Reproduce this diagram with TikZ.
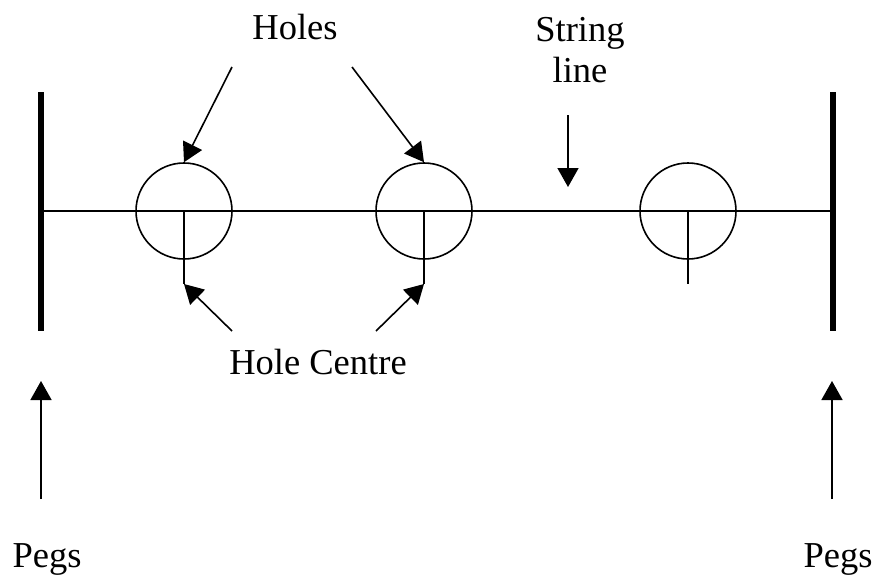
\documentclass[tikz,border=0pt]{standalone}
\usepackage{fontspec}
\setmainfont{Liberation Serif}
\usetikzlibrary{arrows.meta,positioning}

\begin{document}
\begin{tikzpicture}[x=1pt,y=-1pt,
    thinline/.style={line width=1.6pt},
    peg/.style={line width=5.5pt},
    pointer/.style={line width=1.6pt,-{Triangle[length=19pt,width=21pt]}},
    hole/.style={circle,draw,line width=1.6pt,minimum size=96pt,inner sep=0pt},
    lbl/.style={font=\fontsize{36.5}{41}\selectfont,inner sep=0pt,anchor=base}]
    \useasboundingbox (0,0) rectangle (878,576);
    % pegs and string
    \coordinate (pegLtop) at (41,92);
    \coordinate (pegLbot) at (41,331);
    \coordinate (pegRtop) at (833,92);
    \coordinate (pegRbot) at (833,331);
    \coordinate (strL) at (41,211);
    \coordinate (strR) at (833,211);
    \draw[thinline] (strL) -- (strR);
    \draw[peg] (pegLtop) -- (pegLbot);
    \draw[peg] (pegRtop) -- (pegRbot);
    % holes with their centre ticks
    \foreach \n/\x in {1/184,2/424,3/688} {
      \node[hole] (hole\n) at (\x,211) {};
      \coordinate (tick\n) at (\x,284);
      \draw[thinline] (hole\n.center) -- (tick\n);
    }
    % labels
    \node[lbl] (holesLbl) at (295,39) {Holes};
    \node[lbl,align=center] (stringLbl) at (580,82) {String\\line};
    \node[lbl] (centreLbl) at (318,374) {Hole Centre};
    \node[lbl] (pegsL) at (47,567) {Pegs};
    \node[lbl] (pegsR) at (838,567) {Pegs};
    % pointers
    \coordinate (holesA) at (232,67);
    \coordinate (holesB) at (352,67);
    \coordinate (stringA) at (568,115);
    \coordinate (stringB) at (568,187);
    \coordinate (centreA) at (232,331);
    \coordinate (centreB) at (376,331);
    \coordinate (pegsLtail) at (41,499);
    \coordinate (pegsLhead) at (41,381);
    \coordinate (pegsRtail) at (832,499);
    \coordinate (pegsRhead) at (832,381);
    \draw[pointer] (holesA) -- (hole1.north);
    \draw[pointer] (holesB) -- (hole2.north);
    \draw[pointer] (stringA) -- (stringB);
    \draw[pointer] (centreA) -- (tick1);
    \draw[pointer] (centreB) -- (tick2);
    \draw[pointer] (pegsLtail) -- (pegsLhead);
    \draw[pointer] (pegsRtail) -- (pegsRhead);
\end{tikzpicture}
\end{document}
